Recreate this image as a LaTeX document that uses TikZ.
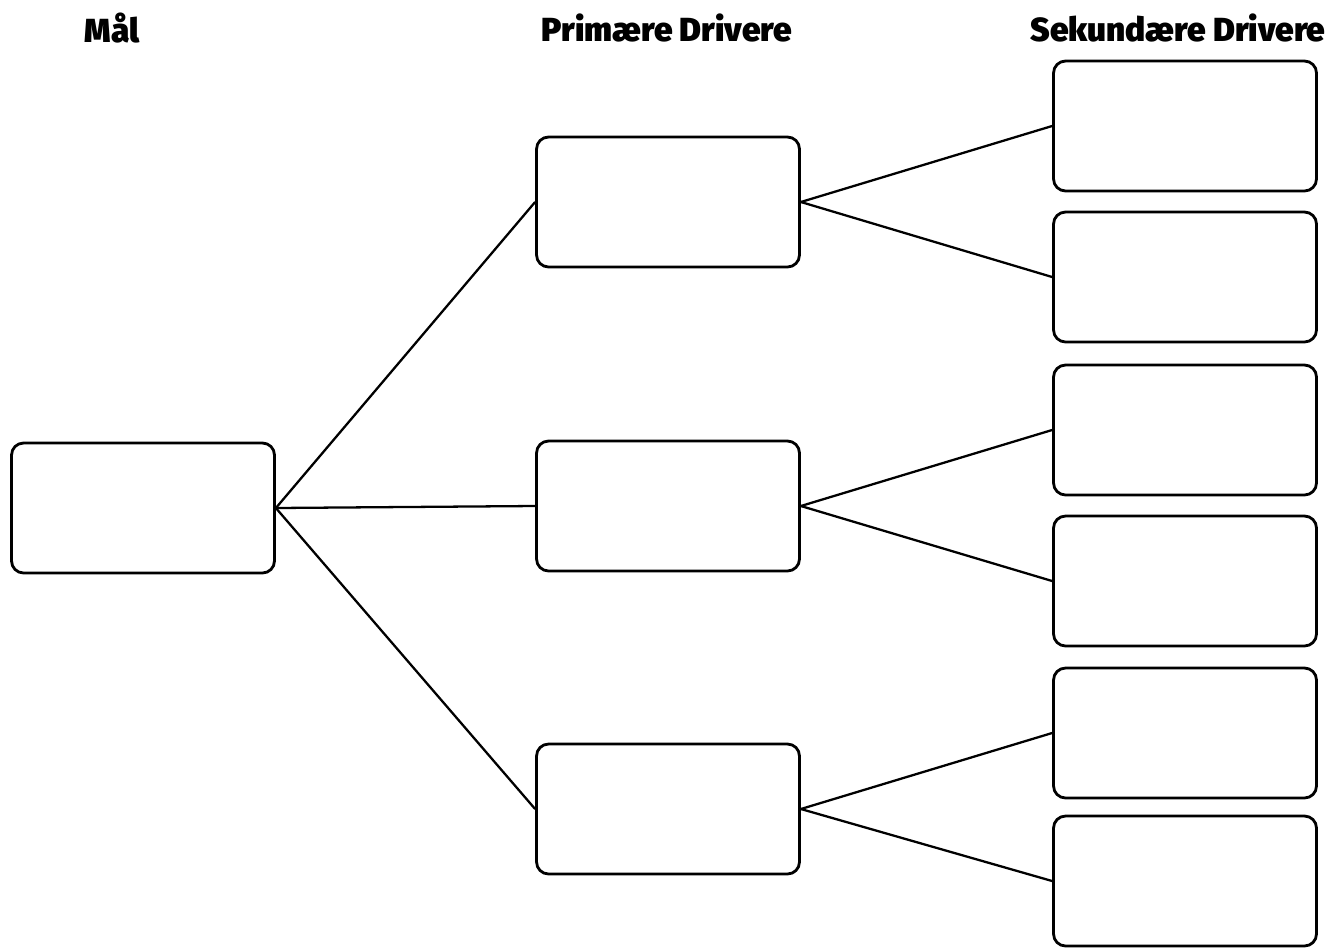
\documentclass[tikz,border=0pt]{standalone}
\usepackage{fontspec}
\setmainfont{Fira Sans}
\newfontfamily\tyk{Fira Sans Black}
\begin{document}
\begin{tikzpicture}[x=0.02cm,y=-0.02cm,
boks/.style={draw,line width=1.6pt,rounded corners=0.24cm,
minimum width=5.26cm,minimum height=2.6cm},
linje/.style={line width=1.3pt},
overskrift/.style={font=\fontsize{19}{22}\tyk}]
\useasboundingbox (0,0) rectangle (1331,947);
% overskrifter
\node[overskrift] (maal) at (112,28) {Mål};
\node[overskrift] (prim) at (667,28) {Primære Drivere};
\node[overskrift] (sek) at (1178,28) {Sekundære Drivere};
% kasser
\node[boks] (mal) at (143,508) {};
\node[boks] (p1) at (668,202) {};
\node[boks] (p2) at (668,506) {};
\node[boks] (p3) at (668,809) {};
\foreach \i/\y in {1/126,2/277,3/430,4/581,5/733,6/881}
\node[boks] (s\i) at (1185,\y) {};
% linjer
\foreach \p in {p1,p2,p3}
\draw[linje] (mal.east) -- (\p.west);
\draw[linje] (p1.east) -- (s1.west);
\draw[linje] (p1.east) -- (s2.west);
\draw[linje] (p2.east) -- (s3.west);
\draw[linje] (p2.east) -- (s4.west);
\draw[linje] (p3.east) -- (s5.west);
\draw[linje] (p3.east) -- (s6.west);
\end{tikzpicture}
\end{document}
